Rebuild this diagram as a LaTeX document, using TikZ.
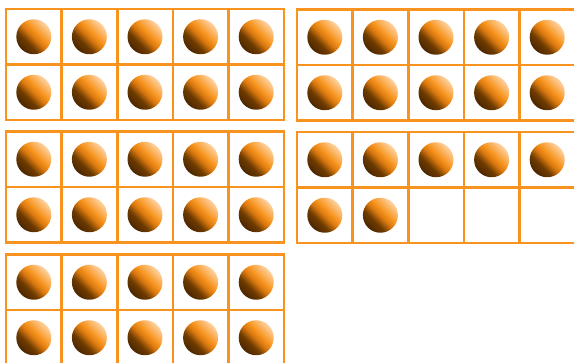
\documentclass[tikz,border=0pt]{standalone}
\definecolor{frameor}{HTML}{F7931E}
\definecolor{balldark}{HTML}{4A2500}
\definecolor{ballbrown}{HTML}{6E3B00}
\definecolor{ballmid}{HTML}{D9780F}
\definecolor{ballor}{HTML}{F7941E}
\definecolor{balllight}{HTML}{FFD9B0}
\pgfdeclarehorizontalshading{ballshade}{100bp}{color(0bp)=(balldark); color(24bp)=(balldark); color(38bp)=(ballbrown); color(49bp)=(ballmid); color(57bp)=(ballor); color(77bp)=(balllight); color(100bp)=(balllight)}
\tikzset{
  frame/.style={draw=frameor, line width=2.6pt},
  ball/.style={circle, minimum size=35pt, inner sep=0pt, shading=ballshade, shading angle=45},
}
\begin{document}
\begin{tikzpicture}[x=1pt,y=-1pt]
\useasboundingbox (0,0) rectangle (574,363);
\clip (0,0) rectangle (574,363);
\foreach \fx/\fy/\fn/\cnt in {6/9/A/10, 6/131.5/B/10, 6/254.5/C/10, 297/9.5/D/10, 297/132/E/7} {
  \draw[frame] (\fx,\fy) rectangle ++(278,111);
  \foreach \i in {1,...,4} \draw[frame] (\fx+\i*55.6,\fy) -- ++(0,111);
  \draw[frame] (\fx,\fy+55.5) -- ++(278,0);
  \foreach \k in {1,...,\cnt} {
    \pgfmathtruncatemacro{\col}{mod(\k-1,5)}
    \pgfmathtruncatemacro{\row}{(\k-1)/5}
    \node[ball] (\fn-\k) at (\fx+27.8+\col*55.6, \fy+27.75+\row*55.5) {};
  }
}
\end{tikzpicture}
\end{document}
